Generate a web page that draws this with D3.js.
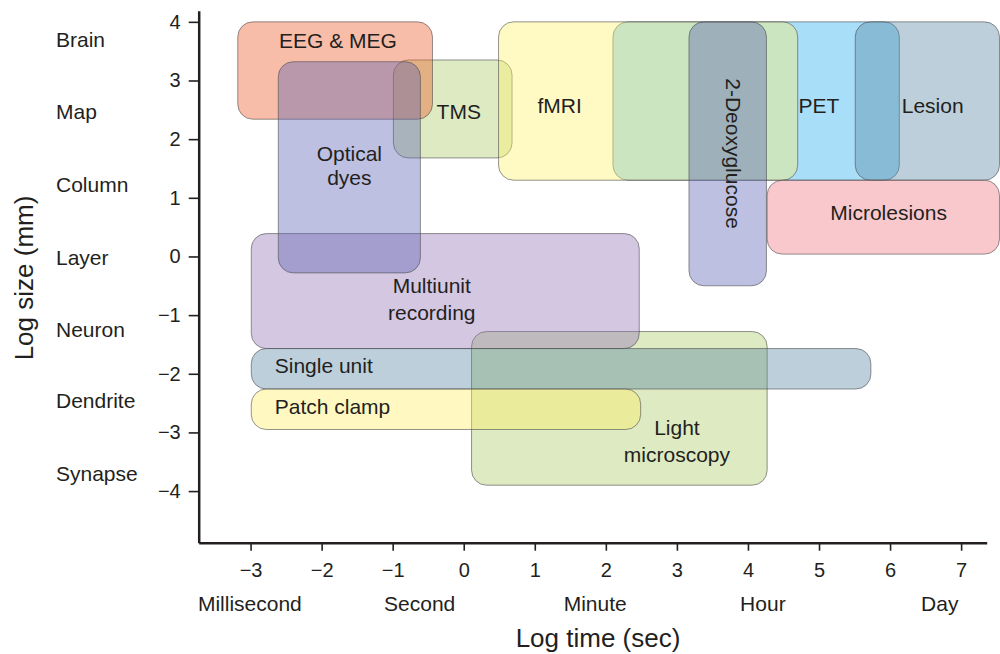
<!DOCTYPE html>
<html>
<head>
<meta charset="utf-8">
<script src="https://cdn.jsdelivr.net/npm/d3@7"></script>
<style>
  html, body { margin: 0; padding: 0; background: #fff; }
  svg { display: block; font-family: "Liberation Sans", Arial, Helvetica, sans-serif; }
  text { fill: #231f20; }
</style>
</head>
<body>
<svg id="chart" width="1000" height="654"></svg>
<script>
// ---- data (log10 seconds, log10 mm) ----
const methods   = ["Light microscopy","PET","TMS","fMRI","Lesion","EEG & MEG","Multiunit recording","Optical dyes","Single unit","Patch clamp","2-Deoxyglucose","Microlesions"];
const timeMin   = [0.11, 2.10, -0.99, 0.49, 5.51, -3.18, -2.99, -2.61, -2.99, -2.99, 3.17, 4.27];
const timeMax   = [4.27, 6.13,  0.68, 4.70, 7.54, -0.44,  2.47, -0.61,  5.73,  2.49, 4.26, 7.54];
const sizeMin   = [-3.90, 1.30, 1.68, 1.30, 1.30, 2.34, -1.57, -0.28, -2.26, -2.95, -0.50, 0.04];
const sizeMax   = [-1.28, 4.00, 3.35, 4.00, 4.00, 4.00,  0.39,  3.32, -1.57, -2.26,  4.00, 1.30];
const fills     = ["#AACB67","#28ADF0","#AACB67","#FFF06C","#5887A3","#EE5A26","#9473B7","#5A62B2","#5887A3","#FFF064","#5A62B2","#F07680"];

// label lines and anchors (data units)
const labelLines = [["Light","microscopy"],["PET"],["TMS"],["fMRI"],["Lesion"],["EEG & MEG"],["Multiunit","recording"],["Optical","dyes"],["Single unit"],["Patch clamp"],["2-Deoxyglucose"],["Microlesions"]];
const labelX     = [3.00, 5.00, -0.07, 1.35, 6.60, -1.77, -0.45, -1.61, -2.66, -2.66, 3.80, 5.98];
const labelY     = [[-3.04,-3.50],[2.45],[2.34],[2.45],[2.45],[3.56],[-0.63,-1.08],[1.63,1.22],[-1.98],[-2.69],[1.755],[0.62]];

const xTicks = [-3,-2,-1,0,1,2,3,4,5,6,7];
const yTicks = [-4,-3,-2,-1,0,1,2,3,4];
const timeUnits  = ["Millisecond","Second","Minute","Hour","Day"];
const timeUnitX  = [-3.01, -0.62, 1.85, 4.21, 6.70];
const sizeUnits  = ["Brain","Map","Column","Layer","Neuron","Dendrite","Synapse"];
const sizeUnitY  = [3.57, 2.34, 1.10, -0.15, -1.37, -2.59, -3.83];

// ---- scales ----
const svg = d3.select("#chart");
const x = d3.scaleLinear().domain([-3.73, 7.36]).range([198.7, 986.7]);
const y = d3.scaleLinear().domain([-4.88, 4.19]).range([542.7, 10.7]);

// ---- rectangles ----
const boxes = methods.map((m, i) => ({m, i}));
svg.append("g").selectAll("rect").data(boxes).join("rect")
  .attr("x", d => x(timeMin[d.i]))
  .attr("y", d => y(sizeMax[d.i]))
  .attr("width", d => x(timeMax[d.i]) - x(timeMin[d.i]))
  .attr("height", d => y(sizeMin[d.i]) - y(sizeMax[d.i]))
  .attr("rx", 15).attr("ry", 15)
  .attr("fill", d => fills[d.i])
  .attr("fill-opacity", 0.4)
  .attr("stroke", "#4d4d4f")
  .attr("stroke-opacity", 0.6)
  .attr("stroke-width", 1);

// ---- labels ----
const lg = svg.append("g").attr("font-size", 21);
boxes.forEach(d => {
  const i = d.i;
  if (methods[i] === "2-Deoxyglucose") {
    lg.append("text")
      .attr("transform", `translate(${x(labelX[i])},${y(labelY[i][0])}) rotate(90)`)
      .attr("text-anchor", "middle").attr("dy", "0.35em")
      .text(labelLines[i][0]);
  } else {
    const anchor = (methods[i] === "Single unit" || methods[i] === "Patch clamp") ? "start" : "middle";
    labelLines[i].forEach((t, k) => {
      lg.append("text")
        .attr("x", x(labelX[i])).attr("y", y(labelY[i][k]))
        .attr("text-anchor", anchor).text(t);
    });
  }
});

// ---- axes ----
const xAxis = d3.axisBottom(x).tickValues(xTicks).tickSize(8).tickSizeOuter(0).tickPadding(12).tickFormat(d3.format("d"));
const yAxis = d3.axisLeft(y).tickValues(yTicks).tickSize(10).tickSizeOuter(0).tickPadding(8).tickFormat(d3.format("d"));

const gx = svg.append("g").attr("transform", `translate(0,${y(-4.88)})`).call(xAxis);
const gy = svg.append("g").attr("transform", `translate(${x(-3.73)},0)`).call(yAxis);
[gx, gy].forEach(g => {
  g.select(".domain").attr("stroke", "#231f20").attr("stroke-width", 2.5);
  g.selectAll(".tick line").attr("stroke", "#231f20").attr("stroke-width", 1.6);
  g.selectAll(".tick text").attr("font-size", 20).attr("fill", "#231f20")
    .attr("font-family", "\"Liberation Sans\", Arial, Helvetica, sans-serif");
});

// unit labels
svg.append("g").selectAll("text").data(timeUnits).join("text")
  .attr("x", (d, i) => x(timeUnitX[i])).attr("y", 610.7)
  .attr("text-anchor", "middle").attr("font-size", 21).text(d => d);
svg.append("g").selectAll("text").data(sizeUnits).join("text")
  .attr("x", 56).attr("y", (d, i) => y(sizeUnitY[i]))
  .attr("font-size", 21).text(d => d);

// titles
svg.append("text").attr("x", 598).attr("y", 647).attr("text-anchor", "middle")
  .attr("font-size", 26).text("Log time (sec)");
svg.append("text").attr("transform", "translate(33,278) rotate(-90)")
  .attr("text-anchor", "middle").attr("font-size", 26).text("Log size (mm)");
</script>
</body>
</html>
